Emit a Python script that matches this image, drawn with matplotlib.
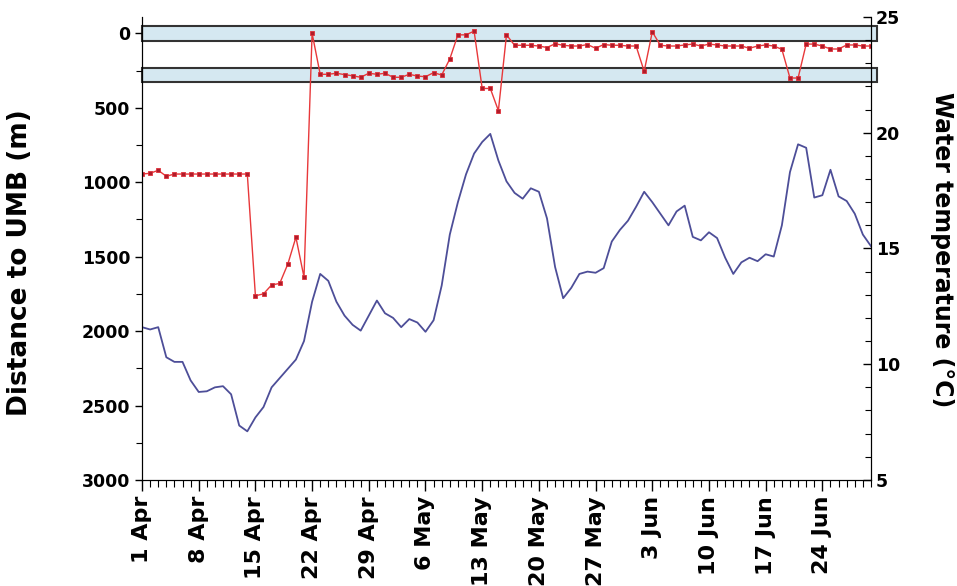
import matplotlib
matplotlib.use("Agg")
import matplotlib.pyplot as plt
from matplotlib.patches import Rectangle
from matplotlib.ticker import MultipleLocator

# days since 1 April
days = list(range(91))

# distance of the tagged fish to UMB (m), one fix per day
distance = [
    945, 940, 920, 960, 945, 945, 945, 945, 945, 945, 945, 945, 945, 945,
    1763, 1750, 1690, 1680, 1550, 1370, 1638, 0,
    275, 275, 268, 277, 285, 295, 268, 275, 268, 295, 295, 275, 287, 291,
    264, 280, 172, 10, 10, -15, 370, 370, 519, 10,
    80, 80, 80, 85, 95, 70, 80, 85, 85, 75, 100, 75, 80, 80, 85, 85,
    255, -10,
    80, 85, 85, 78, 72, 85, 72, 78, 85, 85, 85, 100, 85, 78, 85, 107,
    300, 300, 72, 72, 85, 105, 105, 78, 78, 85, 85,
]

# daily water temperature (deg C)
temperature = [
    11.6, 11.5, 11.6, 10.3, 10.1, 10.1, 9.3, 8.8, 8.83, 9.0,
    9.05, 8.7, 7.35, 7.1, 7.7, 8.15, 9.0, 9.4, 9.8, 10.2,
    11.0, 12.7, 13.9, 13.6, 12.7, 12.1, 11.7, 11.45, 12.1, 12.75,
    12.2, 12.0, 11.6, 11.95, 11.8, 11.4, 11.9, 13.4, 15.6, 17.0,
    18.2, 19.1, 19.6, 19.95, 18.8, 17.9, 17.4, 17.15, 17.6, 17.45,
    16.3, 14.2, 12.85, 13.3, 13.9, 14.0, 13.95, 14.15, 15.3, 15.8,
    16.2, 16.8, 17.45, 17.0, 16.5, 16.0, 16.6, 16.85, 15.5, 15.35,
    15.7, 15.45, 14.6, 13.9, 14.4, 14.6, 14.45, 14.75, 14.65, 16.0,
    18.3, 19.5, 19.35, 17.2, 17.3, 18.4, 17.25, 17.05, 16.5, 15.6,
    15.1,
]

# receiver detection ranges (m)
ranges = [(-50, 50), (230, 330)]

date_ticks = list(range(0, 85, 7))
date_labels = ["1 Apr", "8 Apr", "15 Apr", "22 Apr", "29 Apr", "6 May",
               "13 May", "20 May", "27 May", "3 Jun", "10 Jun", "17 Jun",
               "24 Jun"]

fig = plt.figure(figsize=(9.57, 5.86), dpi=100)
ax = fig.add_axes([0.1484, 0.181, 0.7617, 0.790])
ax2 = ax.twinx()

for lo, hi in ranges:
    ax.add_patch(Rectangle((0, lo), 90.7, hi - lo, facecolor="#d5e8f1",
                           edgecolor="#333333", linewidth=1.5,
                           clip_on=False, zorder=1))

ax.plot(days, distance, color="#e8383a", linewidth=1.0, marker="s",
        markersize=3.5, markerfacecolor="#b01c2a",
        markeredgecolor="#e0303a", markeredgewidth=0.6, zorder=3)
ax2.plot(days, temperature, color="#4d4e98", linewidth=1.3)

ax.set_xlim(0, 90)
ax.set_ylim(3000, -110)
ax2.set_ylim(5, 25)

ax.set_xticks(date_ticks)
ax.set_xticklabels(date_labels, rotation=90, fontsize=16, fontweight="bold")
ax.xaxis.set_minor_locator(MultipleLocator(1))
ax.set_yticks(range(0, 3001, 500))
ax.yaxis.set_minor_locator(MultipleLocator(250))
ax2.set_yticks(range(5, 26, 5))
ax2.yaxis.set_minor_locator(MultipleLocator(1))

for label in ax.get_yticklabels() + ax2.get_yticklabels():
    label.set_fontsize(12.5)
    label.set_fontweight("bold")

ax.tick_params(axis="x", which="major", direction="out", length=8, width=1)
ax.tick_params(axis="x", which="minor", direction="out", length=5, width=0.8)
ax.tick_params(axis="y", which="major", direction="out", length=5, width=1)
ax.tick_params(axis="y", which="minor", direction="out", length=4, width=0.8)
ax2.tick_params(axis="y", which="major", direction="in", length=6, width=1)
ax2.tick_params(axis="y", which="minor", direction="in", length=4, width=0.8)

for a in (ax, ax2):
    a.spines["top"].set_visible(False)

ax.set_ylabel("Distance to UMB (m)", fontsize=19, fontweight="bold")
ax.yaxis.set_label_coords(-0.150, 0.47)
ax2.set_ylabel("Water temperature (\u00b0C)", fontsize=17, fontweight="bold",
               rotation=270)
ax2.yaxis.set_label_coords(1.114, 0.497)

fig.savefig("out.png", dpi=100)
